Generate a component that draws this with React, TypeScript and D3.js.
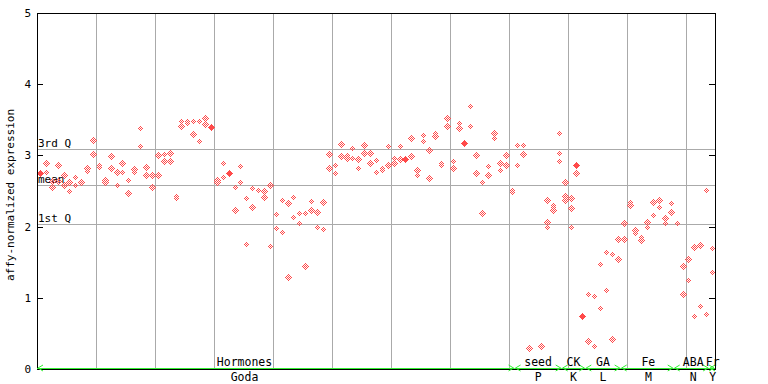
import * as React from "react"
import * as d3 from "d3"

// replicate values per sample (sample index = position)
const expr: number[][] = [
    [2.75, 2.75], [2.90, 2.77], [2.64, 2.56], [2.86, 2.64], [2.72, 2.59],
    [2.62, 2.50], [2.69, 2.59], [2.63], [2.82, 2.78], [3.21, 3.02],
    [2.86, 2.84], [2.65, 2.63], [2.99, 2.82], [2.77, 2.58], [2.89, 2.77],
    [2.65, 2.47], [2.81, 2.77], [3.38, 3.13], [2.84, 2.73], [2.73, 2.55],
    [3.00, 2.72], [3.02, 2.92], [3.04, 2.92], [2.43, 2.40], [3.48, 3.41],
    [3.48, 3.45], [3.48, 3.30], [3.48, 3.20], [3.52, 3.44], [3.40, 3.40],
    [2.66, 2.63], [2.90, 2.70], [2.75, 2.75], [2.55, 2.23], [2.85, 2.63],
    [2.40, 1.75], [2.54, 2.27], [2.51], [2.50, 2.41], [2.58, 1.73],
    [2.17, 1.98], [2.37, 1.93], [2.33, 1.29], [2.42, 2.13], [2.19, 2.05],
    [2.19, 1.44], [2.36, 2.23], [2.20, 2.00], [2.34, 1.96], [3.02, 2.82],
    [2.86, 2.75], [3.16, 2.99], [3.00, 2.97], [3.10, 2.97], [2.95, 2.82],
    [3.14, 3.04], [3.03, 2.90], [2.93, 2.76], [2.83, 2.80], [3.13, 2.86],
    [2.97, 2.89], [3.13, 2.95], [2.95, 2.95], [3.25, 2.99], [2.79, 2.72],
    [3.28, 3.20], [3.07, 2.68], [3.31, 3.27], [2.90, 2.86], [3.53, 3.41],
    [2.92, 2.83], [3.46, 3.38], [3.18, 3.18], [3.69, 3.41], [3.00, 2.75],
    [2.62, 2.19], [2.85, 2.72], [3.31, 3.24], [2.90, 2.80], [3.00, 2.86],
    [2.51, 2.48], [3.14, 2.87], [3.14, 3.02], [0.29], [],
    [0.32], [2.38, 2.07, 1.99], [2.30, 2.27, 2.24], [3.31, 3.03, 2.92], [2.62, 2.43, 2.37],
    [2.40, 2.26, 2.00], [2.87, 2.87, 2.75], [0.75, 0.75], [1.06, 0.39], [1.02, 0.33],
    [1.47, 0.85], [1.65, 1.11], [1.61, 0.42], [1.82, 1.54], [2.05, 1.82],
    [2.34, 2.31], [1.95, 1.91], [1.85, 1.81], [2.07, 1.99], [2.34, 2.16],
    [2.37, 2.28], [2.12, 2.05], [2.33, 2.20], [2.05], [1.44, 1.05],
    [1.55, 1.25], [1.72, 0.74], [1.74, 0.89], [2.51, 0.77], [1.70, 1.36],
]

const catTop = ["Hormones", "seed", "CK", "GA", "Fe", "ABA", "Fr"]
const catBottom = ["Goda", "P", "K", "L", "M", "N", "Y"]
const catStart = [0, 81, 89, 93, 99, 108, 114]
const catEnd = [81, 89, 93, 99, 108, 114, 115]
const catLabelAt = [35.2, 85, 91, 96, 103.7, 111.3, 114.6]

const refValues = [3.09, 2.58, 2.03]
const refLabels = ["3rd Q", "mean", "1st Q"]
const yTicks = [0, 1, 2, 3, 4, 5]

export default function App() {
    const [w, h] = [768, 384]
    const m = { top: 13, bottom: 15, left: 37, right: 53 }
    const nSamples = expr.length

    const x = d3.scaleLinear().domain([0, nSamples]).range([m.left, w - m.right])
    const y = d3.scaleLinear().domain([0, 5]).range([h - m.bottom, m.top])
    const px = (v: number) => Math.round(v) + 0.5

    const [x0, x1, y0, y1] = [m.left, w - m.right, h - m.bottom, m.top]
    const font = "'DejaVu Sans Mono', monospace"
    const red = "#ff4a4a"
    const green = "#33ee33"

    const gridX = d3.range(10, nSamples, 10).map(i => (
        <line key={i} x1={px(x(i))} x2={px(x(i))} y1={y1} y2={y0} stroke="#aaaaaa" strokeWidth={1} />
    ))

    const refs = refValues.map((v, i) => (
        <g key={i}>
            <line x1={x0} x2={x1} y1={px(y(v))} y2={px(y(v))} stroke="#aaaaaa" strokeWidth={1} />
            <text x={x0 + 1} y={y(v) - 2} fontSize={11} fontFamily={font} fill="black">{refLabels[i]}</text>
        </g>
    ))

    const dots = expr.flatMap((vals, i) => vals.map((v, j) => {
        const cx = Math.round(x(i + 0.5))
        const cy = Math.round(y(v))
        const dup = vals.filter(u => u === v).length > 1
        const r = 3.5
        return (
            <path
                key={`${i}-${j}`}
                d={`M${cx + 0.5},${cy + 0.5 - r}L${cx + 0.5 + r},${cy + 0.5}L${cx + 0.5},${cy + 0.5 + r}L${cx + 0.5 - r},${cy + 0.5}Z`}
                fill={dup ? red : "url(#chk)"}
                shapeRendering="crispEdges"
            />
        )
    }))

    const ticks = yTicks.map(t => (
        <g key={t}>
            <line x1={x0} x2={x0 + 6} y1={px(y(t))} y2={px(y(t))} stroke="black" />
            <line x1={x1 - 6} x2={x1} y1={px(y(t))} y2={px(y(t))} stroke="black" />
            <text x={31} y={y(t) + 4} fontSize={11} fontFamily={font} textAnchor="end" fill="black">{t}</text>
        </g>
    ))

    const arrow = (xa: number, dir: number, k: string) => (
        <path key={k} d={`M${xa},${y0 - 1}l${-dir * 5},-3M${xa},${y0 - 1}l${-dir * 5},3`} stroke={green} strokeWidth={1} fill="none" />
    )

    const cats = catTop.map((c, i) => {
        const sx = x(catStart[i])
        const ex = x(catEnd[i])
        const lx = x(catLabelAt[i])
        return (
            <g key={i}>
                <line x1={sx} x2={ex} y1={y0 - 0.5} y2={y0 - 0.5} stroke={green} strokeWidth={1} />
                {arrow(sx + 1, -1, "l")}
                {arrow(ex - 1, 1, "r")}
                <text x={lx} y={y0 - 3} fontSize={11.5} fontFamily={font} textAnchor="middle" fill="black">{c}</text>
                <text x={lx} y={y0 + 12} fontSize={11.5} fontFamily={font} textAnchor="middle" fill="black">{catBottom[i]}</text>
            </g>
        )
    })

    return (
        <div style={{ position: "absolute", left: 0, top: 0 }}>
            <svg width={w} height={h} style={{ display: "block", background: "white" }}>
                <defs>
                    <pattern id="chk" width={2} height={2} patternUnits="userSpaceOnUse">
                        <rect x={0} y={0} width={1} height={1} fill={red} />
                        <rect x={1} y={1} width={1} height={1} fill={red} />
                    </pattern>
                </defs>
                {gridX}
                {refs}
                {dots}
                <rect x={x0 + 0.5} y={y1 + 0.5} width={x1 - x0} height={y0 - y1} fill="none" stroke="black" strokeWidth={1} />
                {ticks}
                {cats}
                <text
                    transform={`translate(14,${(y0 + y1) / 2 + 4}) rotate(-90)`}
                    fontSize={11}
                    fontFamily={font}
                    textAnchor="middle"
                    fill="black"
                >
                    affy-normalized expression
                </text>
            </svg>
        </div>
    )
}
